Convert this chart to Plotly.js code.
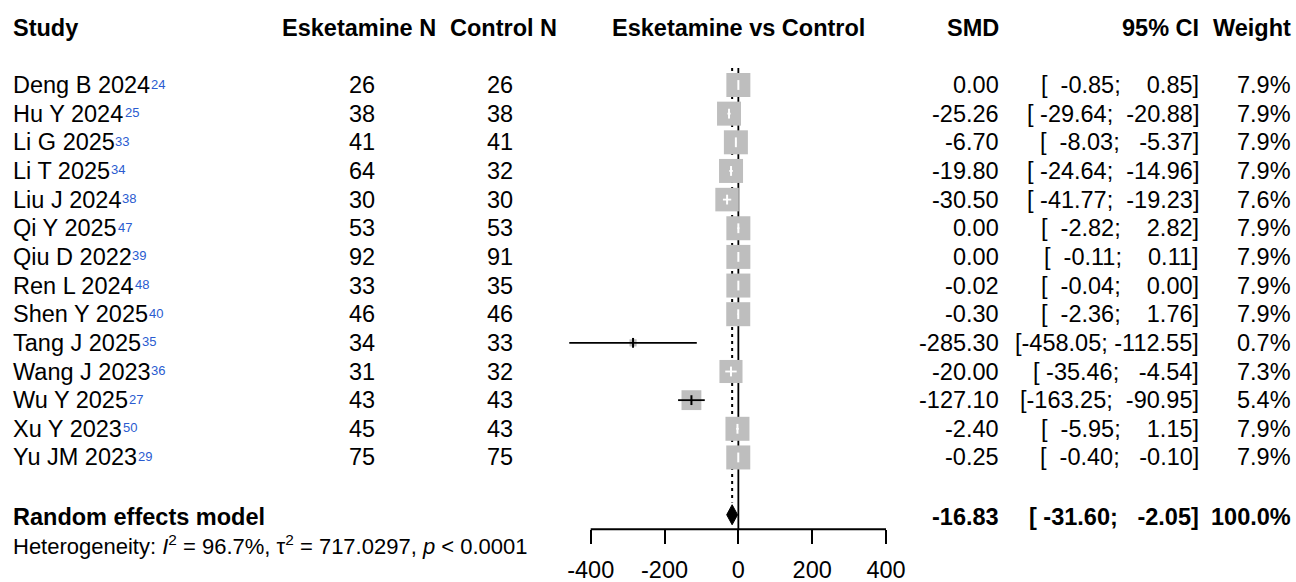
<!DOCTYPE html>
<html><head><meta charset="utf-8">
<script src="https://cdn.plot.ly/plotly-3.0.1.min.js"></script>
<style>html,body{margin:0;padding:0;background:#fff}#chart{width:1296px;height:582px}</style>
</head><body><div id="chart"></div>
<script>
// ---------------- data ----------------
const studies = ["Deng B 2024","Hu Y 2024","Li G 2025","Li T 2025","Liu J 2024","Qi Y 2025","Qiu D 2022","Ren L 2024","Shen Y 2025","Tang J 2025","Wang J 2023","Wu Y 2025","Xu Y 2023","Yu JM 2023"];
const refNums = ["24","25","33","34","38","47","39","48","40","35","36","27","50","29"];
const nEsketamine = [26,38,41,64,30,53,92,33,46,34,31,43,45,75];
const nControl = [26,38,41,32,30,53,91,35,46,33,32,43,43,75];
const smd = [0.00,-25.26,-6.70,-19.80,-30.50,0.00,0.00,-0.02,-0.30,-285.30,-20.00,-127.10,-2.40,-0.25];
const ciLower = [-0.85,-29.64,-8.03,-24.64,-41.77,-2.82,-0.11,-0.04,-2.36,-458.05,-35.46,-163.25,-5.95,-0.40];
const ciUpper = [0.85,-20.88,-5.37,-14.96,-19.23,2.82,0.11,0.00,1.76,-112.55,-4.54,-90.95,1.15,-0.10];
const weights = [7.9,7.9,7.9,7.9,7.6,7.9,7.9,7.9,7.9,0.7,7.3,5.4,7.9,7.9];
const pooledSMD = -16.83;
const pooledLower = -31.60;
const pooledUpper = -2.05;
const pooledWeight = 100.0;
const hetI2 = "96.7%";
const hetTau2 = "717.0297";
const hetP = "&lt; 0.0001";
const tickVals = [-400,-200,0,200,400];
const tickText = ["-400","-200","0","200","400"];
const headers = {study:"Study", esk:"Esketamine N", ctl:"Control N", forest:"Esketamine vs Control", smd:"SMD", ci:"95% CI", w:"Weight"};

// ---------------- layout constants ----------------
const W = 1296, H = 582;
const FONT = "Liberation Sans, Arial, sans-serif";
const FS = 23.5;
const rowTop = 85, rowStep = 28.65;         // pixel of row 1 and spacing
const yTopVal = 1 - rowTop / rowStep;
const yBotVal = 1 + (H - rowTop) / rowStep;
const axPx = [590.7, 886];                    // pixel span of -400..400
const axMin = -400, axMax = 400;
const upp = (axMax - axMin) / (axPx[1] - axPx[0]);
const domPx = [520, 1000];                    // wider plotting domain (no clipping of long CIs)
const xRange = [axMin - (axPx[0] - domPx[0]) * upp, axMax + (domPx[1] - axPx[1]) * upp];
const axisLinePx = 529.3;
const boxScale = 8.54;                        // px per sqrt(weight %)
const NB = "\u00A0";
const px = v => v / W;
const rows = studies.map((_, i) => i + 1);
const headerRow = -1, pooledRow = 16, hetRow = 17.05;
const pxPerUnit = 1 / upp;

// ---------------- formatting ----------------
const f2 = v => v.toFixed(2);
const allLow = ciLower.concat([pooledLower]).map(f2);
const allHigh = ciUpper.concat([pooledUpper]).map(f2);
const lw = Math.max(...allLow.map(s => s.length));
const hw = Math.max(...allHigh.map(s => s.length));
const pad = (s, n) => NB.repeat(n - s.length) + s;
const ciStr = (i) => "[" + pad(allLow[i], lw) + ";" + NB + pad(allHigh[i], hw) + "]";

// ---------------- traces ----------------
const boxSizes = weights.map(w => boxScale * Math.sqrt(w));
const inside = smd.map((e, i) => {
  const half = boxSizes[i] / 2;
  return (e - ciLower[i]) * pxPerUnit <= half && (ciUpper[i] - e) * pxPerUnit <= half;
});
function ciTrace(sel, color) {
  const idx = smd.map((_, i) => i).filter(i => sel(i));
  return {
    type: "scatter", mode: "markers", hoverinfo: "skip",
    x: idx.map(i => smd[i]), y: idx.map(i => rows[i]),
    marker: {symbol: "line-ns", size: 7, color: color, opacity: 1, line: {color: color, width: 2}},
    error_x: {type: "data", symmetric: false, array: idx.map(i => ciUpper[i] - smd[i]),
              arrayminus: idx.map(i => smd[i] - ciLower[i]), color: color, thickness: 1.8, width: 0}
  };
}
const hd = 0.35;
const traces = [
  {type: "scatter", mode: "markers", hoverinfo: "skip",
   x: smd, y: rows,
   marker: {symbol: "square", size: boxSizes, sizemode: "diameter", color: "#bebebe", opacity: 1, line: {width: 0}}},
  ciTrace(i => inside[i], "#ffffff"),
  ciTrace(i => !inside[i], "#000000"),
  {type: "scatter", mode: "lines", fill: "toself", fillcolor: "#000000", hoverinfo: "skip",
   x: [pooledLower, pooledSMD, pooledUpper, pooledSMD, pooledLower],
   y: [pooledRow, pooledRow - hd, pooledRow, pooledRow + hd, pooledRow],
   line: {color: "#000000", width: 1}}
];

// ---------------- annotations ----------------
const ann = [];
function txt(text, xpx, y, anchor, opts = {}) {
  ann.push(Object.assign({
    text: text, x: px(xpx), xref: "paper", y: y, yref: "y", xanchor: anchor, yanchor: "middle",
    showarrow: false, borderpad: 0, borderwidth: 0,
    font: {family: FONT, size: opts.size || FS, color: opts.color || "#000000", weight: opts.bold ? "bold" : "normal"}
  }, opts.extra || {}));
}
// headers
txt(headers.study, 13, headerRow, "left", {bold: true});
txt(headers.esk, 359, headerRow, "center", {bold: true});
txt(headers.ctl, 503.5, headerRow, "center", {bold: true});
ann.push({text: headers.forest, x: 0, xref: "x", y: headerRow, yref: "y", xanchor: "center", yanchor: "middle",
  showarrow: false, borderpad: 0, borderwidth: 0, font: {family: FONT, size: FS, color: "#000", weight: "bold"}});
txt(headers.smd, 999, headerRow, "right", {bold: true});
txt(headers.ci, 1199, headerRow, "right", {bold: true});
txt(headers.w, 1291, headerRow, "right", {bold: true});

const cv = document.createElement("canvas").getContext("2d");
cv.font = FS + "px 'Liberation Sans'";
studies.forEach((s, i) => {
  const r = rows[i];
  txt(s, 13, r, "left");
  const wName = cv.measureText(s).width;
  txt(refNums[i], 13 + wName + 0.5, r, "left", {size: 13, color: "#2a5bd0", extra: {yshift: 1}});
  txt(String(nEsketamine[i]), 362, r, "center");
  txt(String(nControl[i]), 500, r, "center");
  txt(f2(smd[i]), 999, r, "right");
  txt(ciStr(i), 1199, r, "right");
  txt(weights[i].toFixed(1) + "%", 1291, r, "right");
});
// pooled
const pe = {extra: {yshift: -2}};
txt("Random effects model", 13, pooledRow, "left", Object.assign({bold: true}, pe));
txt(f2(pooledSMD), 999, pooledRow, "right", Object.assign({bold: true}, pe));
txt(ciStr(studies.length), 1199, pooledRow, "right", Object.assign({bold: true}, pe));
txt(pooledWeight.toFixed(1) + "%", 1291, pooledRow, "right", Object.assign({bold: true}, pe));
// heterogeneity
txt("Heterogeneity: <i>I</i><sup>2</sup> = " + hetI2 + ", \u03C4<sup>2</sup> = " + hetTau2 + ", <i>p</i> " + hetP,
  13, hetRow, "left", {size: 22});

// ---------------- shapes ----------------
const yLineTop = 1 + (68 - rowTop) / rowStep;
const yAxisVal = 1 + (axisLinePx - rowTop) / rowStep;
const shapes = [
  {type: "line", xref: "x", yref: "y", x0: 0, x1: 0, y0: yLineTop, y1: yAxisVal, layer: "below",
   line: {color: "#000", width: 1.8}},
  {type: "line", xref: "x", yref: "y", x0: pooledSMD, x1: pooledSMD, y0: yLineTop, y1: pooledRow - hd - 0.08, layer: "below",
   line: {color: "#000", width: 2, dash: "3px,4px"}},
  // axis baseline spanning the tick range
  {type: "line", xref: "x", yref: "y", x0: tickVals[0], x1: tickVals[tickVals.length - 1], y0: yAxisVal, y1: yAxisVal,
   layer: "above", line: {color: "#000", width: 2}}
];

const layout = {
  width: W, height: H, margin: {l: 0, r: 0, t: 0, b: 0},
  paper_bgcolor: "#ffffff", plot_bgcolor: "rgba(0,0,0,0)", showlegend: false,
  font: {family: FONT, size: FS, color: "#000"},
  xaxis: {domain: [px(domPx[0]), px(domPx[1])], range: xRange, anchor: "free",
    position: (H - axisLinePx) / H, showline: false,
    ticks: "outside", ticklen: 14, tickwidth: 2, tickcolor: "#000",
    tickmode: "array", tickvals: tickVals, ticktext: tickText,
    tickfont: {family: FONT, size: FS, color: "#000"}, ticklabelstandoff: 5,
    showgrid: false, zeroline: false, fixedrange: true},
  yaxis: {domain: [0, 1], range: [yBotVal, yTopVal], visible: false, showgrid: false,
    zeroline: false, fixedrange: true},
  annotations: ann, shapes: shapes
};
Plotly.newPlot("chart", traces, layout, {staticPlot: true, displayModeBar: false});
</script></body></html>
